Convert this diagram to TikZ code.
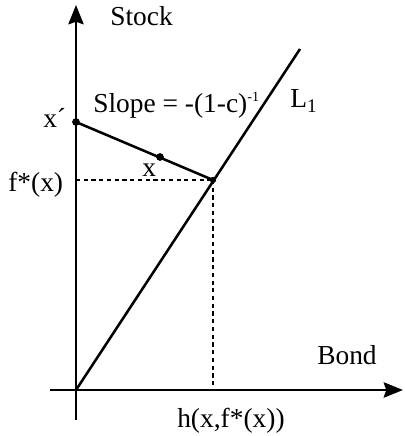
\documentclass[tikz,border=0pt]{standalone}
\usepackage{fontspec}
\setmainfont{Liberation Serif}
\usetikzlibrary{arrows.meta,positioning,calc}

\begin{document}
\begin{tikzpicture}[x=0.025cm,y=0.025cm,
  axis/.style={line width=1.9pt,-{Stealth[length=0.48cm,width=0.38cm,inset=0.06cm]}},
  curve/.style={line width=1.8pt},
  guide/.style={line width=1.6pt,dash pattern=on 3pt off 2.5pt},
  dot/.style={circle,fill=black,inner sep=0pt,minimum size=5.5pt},
  lbl/.style={font=\fontsize{19.5}{21}\selectfont,inner sep=0pt,anchor=base west}]
  \useasboundingbox (0,0) rectangle (405,436);

  % 軸の描画
  \coordinate (o) at (76,46);
  \coordinate (ybot) at (76,16);
  \coordinate (ytop) at (76,431);
  \coordinate (xleft) at (50,46);
  \coordinate (xright) at (403,46);
  \draw[axis] (ybot) -- (ytop);
  \draw[axis] (xleft) -- (xright);
  \node[lbl] (stock) at (110,410) {Stock};
  \node[lbl] (bond) at (317,71) {Bond};

  % 直線 L1
  \coordinate (ltop) at (300,387);
  \draw[curve] (o) -- (ltop);
  \node[lbl] (lone) at (290,328) {L\textsubscript{1}};

  % 予算線と点
  \node[dot] (xp) at (76,314) {};
  \node[dot] (xpt) at (160,279) {};
  \node[dot,minimum size=4.5pt] (k) at (213,256) {};
  \draw[curve] (xp.center) -- (k.center);
  \node[lbl] (xplbl) at (43,308) {x´};
  \node[lbl] (xlbl) at (142,259) {x};
  \node[lbl] (slope) at (93,323) {Slope = -(1-c)\raisebox{8pt}{\fontsize{10}{10}\selectfont -1}};

  % 補助線
  \coordinate (fy) at (76,256);
  \coordinate (hx) at (213,46);
  \draw[guide] (fy) -- (k.center);
  \draw[guide] (k.center) -- (hx);
  \node[lbl] (flbl) at (8,244) {f*(x)};
  \node[lbl] (hlbl) at (177,8) {h(x,f*(x))};
\end{tikzpicture}
\end{document}
